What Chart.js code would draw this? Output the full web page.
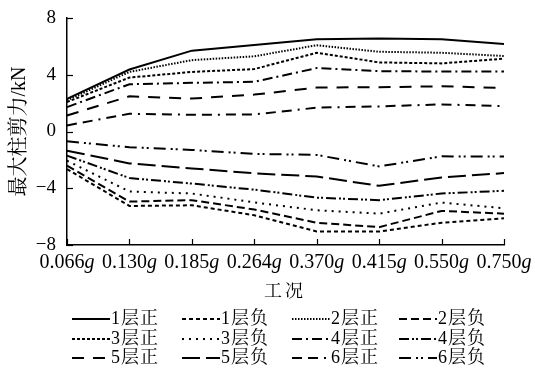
<!DOCTYPE html>
<html>
<head>
<meta charset="utf-8">
<script src="https://cdn.jsdelivr.net/npm/chart.js@4.4.0/dist/chart.umd.min.js"></script>
<style>
  html, body { margin: 0; padding: 0; background: #fff; }
  #wrap { width: 535px; height: 370px; }
</style>
</head>
<body>
<div id="wrap"><canvas id="chart" width="535" height="370"></canvas></div>
<script>
// ----------------- Data -----------------
const conditions = ['0.066g', '0.130g', '0.185g', '0.264g', '0.370g', '0.415g', '0.550g', '0.750g'];
const yTickValues = [-8, -4, 0, 4, 8];

const floor1Pos = [2.30, 4.37, 5.70, 6.10, 6.50, 6.55, 6.50, 6.17];
const floor1Neg = [-2.65, -5.25, -5.20, -5.90, -7.05, -7.05, -6.43, -6.12];
const floor2Pos = [2.20, 4.20, 5.03, 5.30, 6.08, 5.62, 5.55, 5.32];
const floor2Neg = [-2.40, -4.94, -4.84, -5.50, -6.43, -6.74, -5.60, -5.79];
const floor3Pos = [2.08, 3.80, 4.20, 4.40, 5.55, 4.87, 4.80, 5.13];
const floor3Neg = [-2.06, -4.23, -4.37, -5.00, -5.55, -5.79, -5.01, -5.41];
const floor4Pos = [1.72, 3.33, 3.43, 3.50, 4.47, 4.25, 4.23, 4.23];
const floor4Neg = [-1.70, -3.28, -3.67, -4.10, -4.66, -4.84, -4.37, -4.18];
const floor5Pos = [1.13, 2.48, 2.32, 2.60, 3.10, 3.12, 3.19, 3.07];
const floor5Neg = [-1.35, -2.25, -2.60, -2.95, -3.17, -3.83, -3.24, -2.93];
const floor6Pos = [0.43, 1.25, 1.18, 1.20, 1.68, 1.77, 1.91, 1.79];
const floor6Neg = [-0.69, -1.11, -1.30, -1.58, -1.65, -2.46, -1.75, -1.77];

const seriesNames = ['1层正', '1层负', '2层正', '2层负', '3层正', '3层负',
                     '4层正', '4层负', '5层正', '5层负', '6层正', '6层负'];
const seriesValues = [floor1Pos, floor1Neg, floor2Pos, floor2Neg, floor3Pos, floor3Neg,
                      floor4Pos, floor4Neg, floor5Pos, floor5Neg, floor6Pos, floor6Neg];
const dashes = [
    [], [4, 3], [1.5, 1.5], [8, 4],
    [3, 2], [2, 5], [10, 4, 2, 4], [10, 3, 2, 2, 2, 3],
    [12, 9], [18, 6], [10, 6, 10, 6, 2, 6], [12, 5, 2, 3, 2, 5]
];

const SERIF = '"Times New Roman", "Liberation Serif", "Noto Serif CJK SC", "Noto Sans CJK SC", serif';

// ----------------- Plugin: ticks, labels, legend -----------------
const decorations = {
    id: 'decorations',
    afterDraw(chart) {
        const ctx = chart.ctx;
        const x = chart.scales.x;
        const y = chart.scales.y;
        const area = chart.chartArea;
        ctx.save();
        ctx.strokeStyle = '#000';
        ctx.lineWidth = 1.2;
        ctx.setLineDash([]);
        // inward ticks
        conditions.forEach((c, i) => {
            const px = Math.round(x.getPixelForValue(i)) + 0.5;
            ctx.beginPath();
            ctx.moveTo(px, area.bottom);
            ctx.lineTo(px, area.bottom - 6);
            ctx.stroke();
        });
        yTickValues.forEach(v => {
            const py = Math.round(y.getPixelForValue(v)) + 0.5;
            ctx.beginPath();
            ctx.moveTo(area.left, py);
            ctx.lineTo(area.left + 6, py);
            ctx.stroke();
        });
        // x tick labels with italic g
        ctx.fillStyle = '#000';
        ctx.textBaseline = 'middle';
        conditions.forEach((c, i) => {
            const px = x.getPixelForValue(i);
            const num = c.slice(0, -1);
            ctx.font = '20px ' + SERIF;
            const wNum = ctx.measureText(num).width;
            ctx.font = 'italic 20px ' + SERIF;
            const wG = ctx.measureText('g').width;
            const start = px - (wNum + wG) / 2;
            ctx.textAlign = 'left';
            ctx.font = '20px ' + SERIF;
            ctx.fillText(num, start, area.bottom + 18);
            ctx.font = 'italic 20px ' + SERIF;
            ctx.fillText('g', start + wNum, area.bottom + 18);
        });
        // x axis title
        ctx.font = '18px ' + SERIF;
        ctx.textAlign = 'center';
        ctx.letterSpacing = '3px';
        ctx.fillText('工况', 285, 292);
        // legend
        const colX = [72, 182, 292, 399];
        const rowY = [319, 339, 358];
        ctx.font = '18px ' + SERIF;
        ctx.letterSpacing = '1px';
        ctx.textAlign = 'left';
        seriesNames.forEach((name, i) => {
            const lx = colX[i % 4];
            const ly = rowY[Math.floor(i / 4)];
            ctx.lineWidth = 2;
            ctx.setLineDash(dashes[i]);
            ctx.beginPath();
            ctx.moveTo(lx, ly);
            ctx.lineTo(lx + 38, ly);
            ctx.stroke();
            ctx.setLineDash([]);
            ctx.fillText(name, lx + 39, ly);
        });
        ctx.restore();
    }
};

// ----------------- Line Chart -----------------
const ctx = document.getElementById('chart').getContext('2d');
new Chart(ctx, {
    type: 'line',
    data: {
        labels: conditions,
        datasets: seriesNames.map((name, i) => ({
            label: name,
            data: seriesValues[i],
            borderColor: '#000',
            borderWidth: 2,
            borderDash: dashes[i],
            pointRadius: 0,
            tension: 0,
            fill: false
        }))
    },
    options: {
        responsive: false,
        animation: false,
        layout: { padding: { left: 0, right: 31, top: 18, bottom: 0 } },
        plugins: {
            legend: { display: false },
            tooltip: { enabled: false }
        },
        scales: {
            x: {
                offset: false,
                grid: { display: false },
                border: { display: true, color: '#000', width: 1.5 },
                ticks: { display: false },
                afterFit: s => { s.height = 125; }
            },
            y: {
                min: -8,
                max: 8,
                afterBuildTicks: s => { s.ticks = yTickValues.map(v => ({ value: v })); },
                grid: { display: false },
                border: { display: true, color: '#000', width: 1.5 },
                ticks: {
                    color: '#000',
                    font: { family: SERIF, size: 19 },
                    padding: 3,
                    callback: v => (v < 0 ? '\u2212' + Math.abs(v) : String(v))
                },
                title: {
                    display: true,
                    text: '最大柱剪力/kN',
                    color: '#000',
                    font: { family: SERIF, size: 20 },
                    padding: { top: 8, bottom: 4 }
                },
                afterFit: s => { s.width = 67; }
            }
        }
    },
    plugins: [decorations]
});
</script>
</body>
</html>
